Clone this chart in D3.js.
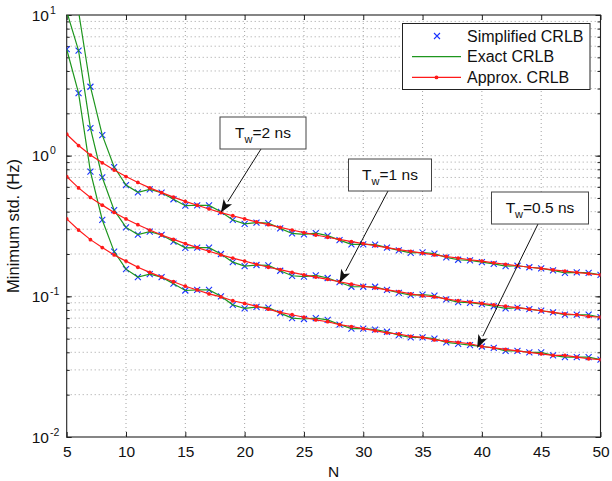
<!DOCTYPE html>
<html>
<head>
<meta charset="utf-8">
<script src="https://cdn.jsdelivr.net/npm/d3@7"></script>
<style>
body{margin:0;background:#fff;}
text{font-family:"Liberation Sans",Arial,Helvetica,sans-serif;fill:#111;}
</style>
</head>
<body>
<svg id="chart" width="612" height="481"></svg>
<script>
// ---- data ----
var N = d3.range(5, 51);
var xTicks = [5, 10, 15, 20, 25, 30, 35, 40, 45, 50];
var yTicks = [0.01, 0.1, 1, 10];
var yTickExp = ["-2", "-1", "0", "1"];

// Approx. CRLB (red), N = 5..50
var approx2 = [1.42,1.18,1.01,0.89,0.79,0.71,0.645,0.59,0.546,0.507,0.473,0.444,0.418,0.394,0.374,0.355,0.338,0.323,0.309,0.296,
  0.284,0.273,0.263,0.254,0.245,0.237,0.229,0.222,0.215,0.209,0.203,0.197,0.192,0.187,0.182,0.178,0.173,0.169,0.165,0.161,
  0.158,0.154,0.151,0.148,0.145,0.142];
var approx1 = [0.71,0.59,0.505,0.445,0.395,0.355,0.323,0.296,0.273,0.254,0.237,0.222,0.209,0.197,0.187,0.178,0.169,0.161,0.155,0.148,
  0.142,0.137,0.132,0.127,0.122,0.118,0.115,0.111,0.108,0.104,0.101,0.099,0.096,0.093,0.091,0.089,0.087,0.085,0.083,0.081,
  0.079,0.077,0.075,0.074,0.072,0.071];
var approx05 = [0.355,0.296,0.253,0.222,0.197,0.178,0.161,0.148,0.137,0.127,0.118,0.111,0.104,0.099,0.093,0.089,0.085,0.081,0.077,0.074,
  0.071,0.068,0.066,0.063,0.061,0.059,0.057,0.055,0.054,0.052,0.051,0.049,0.048,0.047,0.046,0.044,0.043,0.042,0.041,0.040,
  0.039,0.038,0.038,0.037,0.036,0.0355];

// Exact CRLB (green) - the simplified CRLB crosses sit on the same values
var exact2 = [21,10.6,3.09,1.40,0.83,0.618,0.549,0.576,0.546,0.490,0.441,0.444,0.443,0.399,0.349,0.328,0.334,0.332,0.304,0.280,
  0.276,0.281,0.270,0.251,0.234,0.234,0.233,0.222,0.212,0.204,0.205,0.201,0.189,0.182,0.180,0.175,0.170,0.164,0.165,0.161,
  0.158,0.153,0.147,0.148,0.147,0.142];
var exact1 = [10.6,5.58,1.57,0.70,0.41,0.309,0.275,0.288,0.273,0.245,0.221,0.222,0.222,0.200,0.175,0.164,0.167,0.166,0.152,0.140,
  0.138,0.141,0.135,0.126,0.117,0.117,0.117,0.111,0.106,0.102,0.103,0.101,0.095,0.091,0.090,0.088,0.085,0.082,0.083,0.081,
  0.079,0.077,0.074,0.074,0.074,0.071];
var exact05 = [5.71,2.78,0.77,0.349,0.208,0.156,0.137,0.144,0.137,0.123,0.110,0.111,0.111,0.100,0.087,0.082,0.084,0.083,0.076,0.070,
  0.069,0.070,0.068,0.063,0.059,0.059,0.058,0.056,0.053,0.051,0.051,0.050,0.047,0.046,0.045,0.044,0.043,0.041,0.041,0.040,
  0.040,0.038,0.037,0.037,0.037,0.0355];
var simplified2 = exact2, simplified1 = exact1, simplified05 = exact05;

var legendLabels = ["Simplified CRLB", "Exact CRLB", "Approx. CRLB"];
// annotation: label value, arrow tip (N, value), box centre in px
var notes = [
  {tw: "2",   n: 18,   v: 0.394, bx: 263, by: 133, w: 86},
  {tw: "1",   n: 28,   v: 0.125, bx: 390, by: 175, w: 83},
  {tw: "0.5", n: 39.6, v: 0.043, bx: 540, by: 208, w: 97}
];

var cBlue = "#1a33ff", cGreen = "#1e961e", cRed = "#ff1a1a";

// ---- layout ----
var svg = d3.select("#chart");
var L = 66.7, R = 600.5, T = 15, B = 437;
var x = d3.scaleLinear().domain([5, 50]).range([L, R]);
var y = d3.scaleLog().domain([0.01, 10]).range([B, T]);

svg.append("rect").attr("width", 612).attr("height", 481).attr("fill", "#fff");

svg.append("clipPath").attr("id", "clip")
  .append("rect").attr("x", L).attr("y", T).attr("width", R - L).attr("height", B - T);

// grid
var grid = svg.append("g").attr("stroke", "#8a8a8a").attr("stroke-width", 0.8)
  .attr("stroke-dasharray", "1,3");
grid.selectAll("line.v").data(xTicks.slice(1, -1)).enter().append("line")
  .attr("x1", function(d){ return x(d); }).attr("x2", function(d){ return x(d); })
  .attr("y1", T).attr("y2", B);
var yMinor = y.ticks().filter(function(d){ return d > 0.0100001 && d < 9.99; });
grid.selectAll("line.h").data(yMinor).enter().append("line")
  .attr("x1", L).attr("x2", R)
  .attr("y1", function(d){ return y(d); }).attr("y2", function(d){ return y(d); });

// axes with inward ticks
function styleAxis(g){
  g.select(".domain").remove();
  g.selectAll(".tick line").attr("stroke", "#222");
  g.selectAll(".tick text").attr("font-size", 15.5).attr("fill", "#111")
    .attr("font-family", "Liberation Sans, Arial, sans-serif");
}
svg.append("g").attr("transform", "translate(0," + B + ")")
  .call(d3.axisBottom(x).tickValues(xTicks).tickSize(-5).tickPadding(9).tickFormat(d3.format("d")))
  .call(styleAxis);
svg.append("g").attr("transform", "translate(0," + T + ")")
  .call(d3.axisTop(x).tickValues(xTicks).tickSize(-5).tickFormat(""))
  .call(styleAxis);
var yMajorMinor = y.ticks();
svg.append("g").attr("transform", "translate(" + L + ",0)")
  .call(d3.axisLeft(y).tickValues(yMajorMinor).tickSize(-3).tickFormat(""))
  .call(styleAxis);
svg.append("g").attr("transform", "translate(" + R + ",0)")
  .call(d3.axisRight(y).tickValues(yMajorMinor).tickSize(-3).tickFormat(""))
  .call(styleAxis);
svg.append("g").attr("transform", "translate(" + L + ",0)")
  .call(d3.axisLeft(y).tickValues(yTicks).tickSize(-5).tickFormat(""))
  .call(styleAxis);
svg.append("g").attr("transform", "translate(" + R + ",0)")
  .call(d3.axisRight(y).tickValues(yTicks).tickSize(-5).tickFormat(""))
  .call(styleAxis);

// y tick labels 10^k
var ylab = svg.append("g").selectAll("g").data(yTicks).enter().append("g")
  .attr("transform", function(d){ return "translate(0," + y(d) + ")"; });
ylab.append("text").attr("x", 49).attr("y", 5.5).attr("text-anchor", "end")
  .attr("font-size", 15.5).text("10");
ylab.append("text").attr("x", 50).attr("y", -1.5).attr("font-size", 10.5)
  .text(function(d, i){ return yTickExp[i]; });

// frame
svg.append("rect").attr("x", L).attr("y", T).attr("width", R - L).attr("height", B - T)
  .attr("fill", "none").attr("stroke", "#222").attr("stroke-width", 1.1);

// axis titles
svg.append("text").attr("x", (L + R) / 2).attr("y", 477).attr("text-anchor", "middle")
  .attr("font-size", 15.5).text("N");
svg.append("text").attr("transform", "translate(19," + ((T + B) / 2) + ") rotate(-90)")
  .attr("text-anchor", "middle").attr("font-size", 16.5).text("Minimum std. (Hz)");

// ---- series ----
var plot = svg.append("g").attr("clip-path", "url(#clip)");
var line = d3.line().x(function(d){ return x(d[0]); }).y(function(d){ return y(d[1]); });
function pairs(vals){ return N.map(function(n, i){ return [n, vals[i]]; }); }

var crossPath = "M-3,-3L3,3M-3,3L3,-3";
[simplified2, simplified1, simplified05].forEach(function(vals){
  plot.append("g").selectAll("path").data(pairs(vals)).enter().append("path")
    .attr("d", crossPath).attr("stroke", cBlue).attr("stroke-width", 1.1).attr("fill", "none")
    .attr("transform", function(d){ return "translate(" + x(d[0]) + "," + y(d[1]) + ")"; });
});
[exact2, exact1, exact05].forEach(function(vals){
  plot.append("path").datum(pairs(vals)).attr("d", line)
    .attr("fill", "none").attr("stroke", cGreen).attr("stroke-width", 1.2);
});
[approx2, approx1, approx05].forEach(function(vals){
  plot.append("path").datum(pairs(vals)).attr("d", line)
    .attr("fill", "none").attr("stroke", cRed).attr("stroke-width", 1.2);
  plot.append("g").selectAll("circle").data(pairs(vals)).enter().append("circle")
    .attr("cx", function(d){ return x(d[0]); }).attr("cy", function(d){ return y(d[1]); })
    .attr("r", 1.9).attr("fill", cRed);
});

// ---- annotations ----
notes.forEach(function(a){
  var tx = x(a.n), ty = y(a.v);
  var sx = a.bx - 2, sy = a.by + 16;
  var ang = Math.atan2(ty - sy, tx - sx);
  var hl = 13, hw = 5;
  var bx = tx - hl * Math.cos(ang), byy = ty - hl * Math.sin(ang);
  var nx = -Math.sin(ang), ny = Math.cos(ang);
  svg.append("line").attr("x1", sx).attr("y1", sy).attr("x2", bx).attr("y2", byy)
    .attr("stroke", "#111").attr("stroke-width", 1);
  var mx = tx - hl * 0.75 * Math.cos(ang), my = ty - hl * 0.75 * Math.sin(ang);
  svg.append("path").attr("fill", "#111")
    .attr("d", "M" + tx + "," + ty + "L" + (bx + nx * hw) + "," + (byy + ny * hw) +
      "L" + mx + "," + my + "L" + (bx - nx * hw) + "," + (byy - ny * hw) + "Z");
  svg.append("rect").attr("x", a.bx - a.w / 2).attr("y", a.by - 16).attr("width", a.w).attr("height", 32)
    .attr("fill", "#fff").attr("stroke", "#444").attr("stroke-width", 1);
  var t = svg.append("text").attr("x", a.bx).attr("y", a.by + 5).attr("text-anchor", "middle")
    .attr("font-size", 15.5);
  t.append("tspan").text("T");
  t.append("tspan").attr("font-size", 11).attr("dy", 5).text("w");
  t.append("tspan").attr("dy", -5).text("=" + a.tw + " ns");
});

// ---- legend ----
var lg = svg.append("g");
lg.append("rect").attr("x", 402.5).attr("y", 23.5).attr("width", 187.5).attr("height", 66)
  .attr("fill", "#fff").attr("stroke", "#222").attr("stroke-width", 1);
var rows = lg.selectAll("g").data(legendLabels).enter().append("g")
  .attr("transform", function(d, i){ return "translate(0," + (36 + i * 20.7) + ")"; });
rows.append("text").attr("x", 467).attr("y", 5.5).attr("font-size", 16).text(function(d){ return d; });
rows.filter(function(d, i){ return i === 0; }).append("path").attr("d", crossPath)
  .attr("transform", "translate(437,0)").attr("stroke", cBlue).attr("stroke-width", 1.1).attr("fill", "none");
rows.filter(function(d, i){ return i === 1; }).append("line")
  .attr("x1", 412).attr("x2", 461).attr("stroke", cGreen).attr("stroke-width", 1.2);
rows.filter(function(d, i){ return i === 2; }).append("line")
  .attr("x1", 412).attr("x2", 461).attr("stroke", cRed).attr("stroke-width", 1.2);
rows.filter(function(d, i){ return i === 2; }).append("circle")
  .attr("cx", 436.5).attr("r", 1.9).attr("fill", cRed);
</script>
</body>
</html>
